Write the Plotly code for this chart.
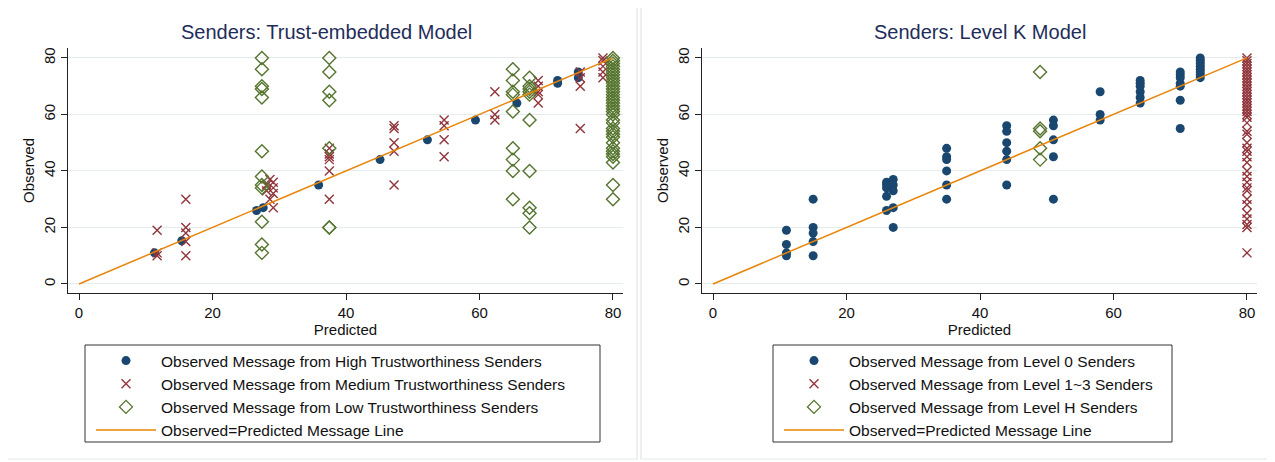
import plotly.graph_objects as go

# page body has an 8px margin, so the figure is drawn 8px in from the window edge
OFF = 8
W, H = 1275 - OFF, 462 - OFF

# ---------------- Left panel data: Trust-embedded model ----------------
high_x = [11.3, 15.4, 26.6, 27.6, 35.9, 45.1, 52.2, 59.4, 65.6, 71.7, 71.7, 74.8, 74.8]
high_y = [11, 15.3, 26, 27, 35, 44, 51, 58, 64, 72, 71, 75, 73]

med_x = ([11.7] * 3 + [16.0] * 5
         + [28.6, 29.1, 28.1, 29.1, 28.1, 29.1, 28.6, 29.1]
         + [37.5] * 6 + [47.2] * 5 + [54.7] * 4 + [62.3] * 3
         + [68.8] * 5 + [75.1] * 4 + [78.5] * 5)
med_y = ([19, 11, 10]
         + [30, 20, 18, 15, 10]
         + [37, 36, 35, 34, 33, 32, 30, 27]
         + [48, 46, 45, 44, 40, 30]
         + [56, 55, 50, 47, 35]
         + [58, 56, 51, 45]
         + [68, 60, 58]
         + [72, 70, 68, 67, 64]
         + [75, 73, 70, 55]
         + [80, 79, 77, 75, 73])

low_y_27 = [80, 76, 70, 69, 66, 47, 38, 35, 34, 22, 14, 11]
low_y_37 = [80, 75, 68, 65, 48, 20, 20]
low_y_65 = [76, 72, 68, 67, 61, 48, 44, 40, 30]
low_y_67 = [73, 70, 69, 68, 67, 58, 40, 27, 25, 20]
low_y_80 = [80, 79, 78, 77, 76, 75, 74, 73, 72, 71, 70, 69, 68, 67, 66, 65, 64,
            63, 62, 61, 60, 58, 57, 55, 54, 53, 52, 50, 48, 47, 46, 45, 43, 35, 30]
low_x = ([27.4] * len(low_y_27) + [37.5] * len(low_y_37) + [65.0] * len(low_y_65)
         + [67.5] * len(low_y_67) + [80.0] * len(low_y_80))
low_y = low_y_27 + low_y_37 + low_y_65 + low_y_67 + low_y_80

# ---------------- Right panel data: Level K model ----------------
l0_groups = {
    11: [19, 14, 11, 10],
    15: [30, 20, 18, 15, 10],
    26: [36, 35, 34, 31, 26],
    27: [37, 35, 33, 27, 20],
    35: [48, 45, 44, 40, 35, 30],
    44: [56, 54, 50, 47, 44, 35],
    51: [58, 56, 51, 45, 30],
    58: [68, 60, 58],
    64: [72, 71, 70, 68, 66, 64],
    70: [75, 74, 73, 71, 70, 65, 55],
    73: [80, 79, 78, 77, 76, 75, 74, 73],
}
l0_x = [k for k, v in l0_groups.items() for _ in v]
l0_y = [y for v in l0_groups.values() for y in v]

l13_y = [80, 79, 78, 77, 76, 75, 74, 73, 72, 71, 70, 69, 68, 67, 66, 65, 64, 63, 62,
         61, 60, 59, 57, 54, 53, 50, 48, 47, 45, 43, 40, 38, 36, 34, 33, 30, 28, 25,
         23, 21, 20, 11]
l13_x = [80] * len(l13_y)

lh_y = [75, 55, 54, 48, 44]
lh_x = [49] * len(lh_y)

line_x = [0, 80]
line_y = [0, 80]

NAVY = "#1a476f"
MAROON = "#90353b"
GREEN = "#55752f"
ORANGE = "#e8850a"
GRID = "#e4ecec"
FONT = "Liberation Sans, Arial, sans-serif"

fig = go.Figure()

def add_panel(xa, ya, legend, names, data):
    (bx, by), (rx, ry), (gx, gy) = data
    common = dict(xaxis=xa, yaxis=ya, legend=legend, mode="markers")
    fig.add_trace(go.Scatter(x=bx, y=by, name=names[0],
                             marker=dict(symbol="circle", size=9, color=NAVY,
                                         line=dict(width=0)), **common))
    fig.add_trace(go.Scatter(x=rx, y=ry, name=names[1],
                             marker=dict(symbol="x-thin-open", size=9, color=MAROON,
                                         line=dict(width=1.4, color=MAROON)), **common))
    fig.add_trace(go.Scatter(x=gx, y=gy, name=names[2],
                             marker=dict(symbol="diamond-open", size=10, color=GREEN,
                                         line=dict(width=1.4, color=GREEN)), **common))
    fig.add_trace(go.Scatter(x=line_x, y=line_y, name=names[3], mode="lines",
                             line=dict(color=ORANGE, width=1.5),
                             xaxis=xa, yaxis=ya, legend=legend))

add_panel("x", "y", "legend",
          ["Observed Message from High Trustworthiness Senders",
           "Observed Message from Medium Trustworthiness Senders",
           "Observed Message from Low Trustworthiness Senders",
           "Observed=Predicted Message Line"],
          [(high_x, high_y), (med_x, med_y), (low_x, low_y)])
add_panel("x2", "y2", "legend2",
          ["Observed Message from Level 0 Senders",
           "Observed Message from Level 1~3 Senders",
           "Observed Message from Level H Senders",
           "Observed=Predicted Message Line"],
          [(l0_x, l0_y), (l13_x, l13_y), (lh_x, lh_y)])

def px_x(p):
    return (p - OFF) / W

def px_y(p):
    return 1 - (p - OFF) / H

ydom = [px_y(293), px_y(48)]
xaxis_common = dict(range=[-1.65, 81.5], tickvals=[0, 20, 40, 60, 80], showgrid=False,
                    zeroline=False, showline=True, linecolor="#222", linewidth=1,
                    ticks="outside", ticklen=6, tickcolor="#222",
                    tickfont=dict(size=15, color="#111", family=FONT),
                    title=dict(text="Predicted", font=dict(size=15, color="#111", family=FONT),
                               standoff=0))
yaxis_common = dict(range=[-3.2, 83.5], tickvals=[0, 20, 40, 60, 80], showgrid=True,
                    gridcolor=GRID, gridwidth=1.2, zeroline=False, showline=True,
                    linecolor="#222", linewidth=1, ticks="outside", ticklen=6,
                    tickcolor="#222", tickangle=-90,
                    tickfont=dict(size=15, color="#111", family=FONT),
                    title=dict(text="Observed", font=dict(size=15, color="#111", family=FONT),
                               standoff=2))

legend_common = dict(xanchor="left", yanchor="top", bgcolor="rgba(0,0,0,0)",
                     borderwidth=0, itemwidth=60, tracegroupgap=0,
                     font=dict(size=15.5, color="#111", family=FONT))

fig.update_layout(
    width=W, height=H, margin=dict(l=0, r=0, t=0, b=0),
    paper_bgcolor="white", plot_bgcolor="white",
    font=dict(family=FONT, color="#111"),
    xaxis=dict(domain=[px_x(68), px_x(623)], anchor="y", **xaxis_common),
    yaxis=dict(domain=ydom, anchor="x", **yaxis_common),
    xaxis2=dict(domain=[px_x(702), px_x(1257)], anchor="y2", **xaxis_common),
    yaxis2=dict(domain=ydom, anchor="x2", **yaxis_common),
    legend=dict(x=px_x(91), y=px_y(344), **legend_common),
    legend2=dict(x=px_x(779), y=px_y(344), **legend_common),
    showlegend=True,
)

shapes = []
# panel borders
for x0, x1 in [(5, 637), (641, 1271)]:
    shapes.append(dict(type="rect", xref="paper", yref="paper",
                       x0=px_x(x0), x1=px_x(x1), y0=px_y(459), y1=px_y(5),
                       line=dict(color="#dfe7e8", width=1.2), layer="below"))
# legend boxes
for x0, x1 in [(85, 600), (773, 1172)]:
    shapes.append(dict(type="rect", xref="paper", yref="paper",
                       x0=px_x(x0), x1=px_x(x1), y0=px_y(442), y1=px_y(345),
                       line=dict(color="#333", width=1)))
fig.update_layout(shapes=shapes)

for txt, cx in [("Senders: Trust-embedded Model", 326), ("Senders: Level K Model", 980)]:
    fig.add_annotation(text=txt, xref="paper", yref="paper",
                       x=px_x(cx), y=px_y(32), xanchor="center", yanchor="middle",
                       showarrow=False,
                       font=dict(size=20, color="#1e2d59", family=FONT))

fig.write_html("out.html")
